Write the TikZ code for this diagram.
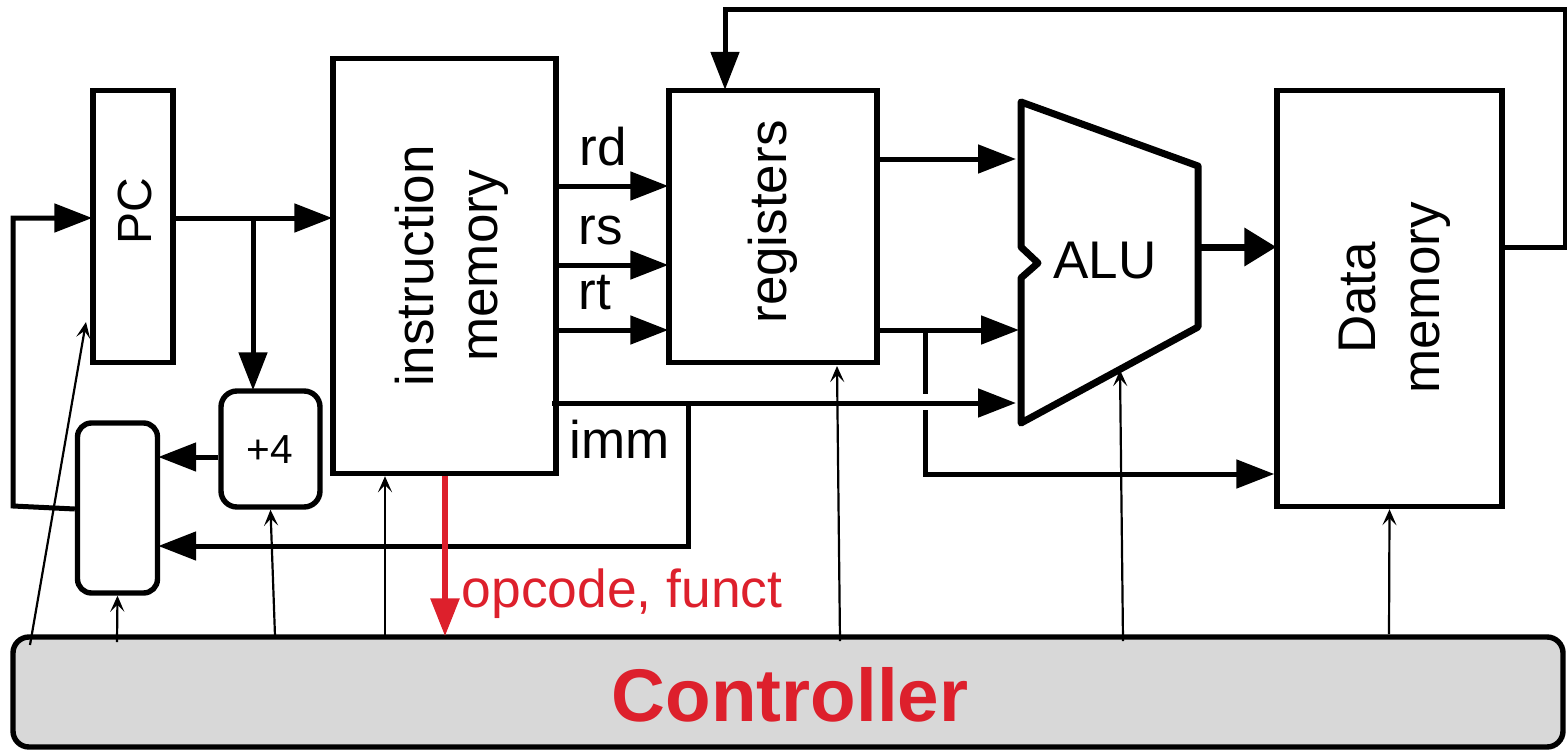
\documentclass[tikz,border=0pt]{standalone}
\usepackage{fontspec}
\setmainfont{Liberation Sans}
\usetikzlibrary{arrows.meta}
\definecolor{ctrlred}{RGB}{221, 32, 44}
\definecolor{ctrlgray}{RGB}{216, 216, 216}
\tikzset{
	unit/.style={draw=black, line width=2.7pt, inner sep=0pt},
	softunit/.style={unit, rounded corners=8pt},
	tag/.style={font=\fontsize{26.5}{32}\selectfont, inner sep=0pt},
	wire/.style={line width=2.5pt, shorten >=-1pt, -{Triangle[length=19pt, width=14pt]}},
	plain/.style={line width=2.5pt},
	ctrlwire/.style={line width=1.1pt, -{Stealth[length=8pt, width=7pt, inset=3.5pt]}}
}
\begin{document}
\begin{tikzpicture}[x=0.5pt, y=-0.5pt]
	\useasboundingbox (0, 0) rectangle (1567, 749);

	% controller
	\node[softunit, fill=ctrlgray, minimum width=775pt, minimum height=55pt] (ctrl) at (788, 692) {};
	\node[font=\bfseries\fontsize{37.3}{40}\selectfont, text=ctrlred, inner sep=0pt] (ctrllabel) at (790, 695) {Controller};

	% units
	\node[unit, minimum width=40pt, minimum height=136pt] (pc) at (133, 226.5) {};
	\node[unit, minimum width=111.5pt, minimum height=207.5pt] (imem) at (444.5, 266) {};
	\node[unit, minimum width=104pt, minimum height=136pt] (reg) at (773, 226.5) {};
	\node[unit, minimum width=112.5pt, minimum height=208pt] (data) at (1389.5, 298.5) {};
	\node[softunit, minimum width=49.5pt, minimum height=58pt] (plus) at (270.5, 449) {};
	\node[softunit, minimum width=40pt, minimum height=85pt, rounded corners=7pt] (mux) at (117.5, 508) {};

	% text inside the units
	\node[tag, font=\fontsize{24}{26}\selectfont, rotate=90] (pclabel) at (135, 211) {PC};
	\node[tag, rotate=90, align=center] (imemlabel) at (452, 266) {instruction\\memory};
	\node[tag, rotate=90] (reglabel) at (773, 222) {registers};
	\node[tag, rotate=90, align=center] (datalabel) at (1395, 298) {Data\\memory};
	\node[font=\fontsize{20.3}{22}\selectfont, inner sep=0pt] (pluslabel) at (270, 450) {+4};

	% alu
	\draw[line width=3.5pt, line join=round] (1021, 102) -- (1198, 166) -- (1198, 327) -- (1021, 423)
		-- (1021, 278) -- (1038, 263) -- (1021, 247) -- cycle;
	\node[tag] (alulabel) at (1105, 261) {ALU};

	% field labels
	\node[tag] (rdlabel) at (603, 147) {rd};
	\node[tag] (rslabel) at (601, 230) {rs};
	\node[tag] (rtlabel) at (595, 293) {rt};
	\node[tag] (immlabel) at (620, 439) {imm};
	\node[font=\fontsize{26.7}{30}\selectfont, text=ctrlred, inner sep=0pt, anchor=base] (oplabel) at (622, 607) {opcode, funct};

	% fetch
	\coordinate (fetch) at (253, 218);
	\coordinate (backup) at (13, 218);
	\coordinate (backdown) at (13, 506);
	\draw[wire] (pc.east |- fetch) -- (imem.west |- fetch);
	\draw[wire] (fetch) -- (fetch |- plus.north);
	\draw[wire] (plus.west |- 0, 457) -- (mux.east |- 0, 457);
	\draw[wire] (mux.west |- 0, 509) -- (backdown) -- (backup) -- (pc.west |- backup);

	% fields into registers
	\foreach \y in {186, 265, 330}{
		\draw[wire] (imem.east |- 0, \y) -- (reg.west |- 0, \y);
	}

	% immediate
	\coordinate (immstart) at (552, 403);
	\coordinate (immtap) at (688, 403);
	\coordinate (immend) at (1014, 403);
	\draw[wire] (immstart) -- (immend);
	\draw[wire] (immtap) -- (688, 546) -- (mux.east |- 0, 546);

	% registers to alu and memory
	\coordinate (aluinone) at (1014, 159);
	\coordinate (aluintwo) at (1017, 330);
	\coordinate (tapone) at (925, 330);
	\coordinate (gapone) at (925, 394);
	\coordinate (gaptwo) at (925, 410);
	\coordinate (tapend) at (925, 474);
	\draw[wire] (reg.east |- aluinone) -- (aluinone);
	\draw[wire] (reg.east |- aluintwo) -- (aluintwo);
	\draw[plain] (tapone) -- (gapone);
	\draw[wire, shorten >=0pt] (gaptwo) -- (tapend) -- (data.west |- tapend);

	% alu result and write back
	\coordinate (aluout) at (1198, 247);
	\coordinate (backright) at (1565, 247);
	\coordinate (backtop) at (1565, 10);
	\coordinate (backleft) at (725, 10);
	\draw[line width=3.5pt, shorten >=-1pt, -{Triangle[length=16pt, width=18.5pt]}] (aluout) -- (data.west |- aluout);
	\draw[wire] (data.east |- backright) -- (backright) -- (backtop) -- (backleft) -- (reg.north -| backleft);

	% opcode to controller
	\draw[wire, ctrlred, line width=3pt] (imem.south -| 445, 0) -- (ctrl.north -| 445, 0);

	% control lines
	\coordinate (pcctrl) at (30, 645);
	\coordinate (pcend) at (86, 322);
	\coordinate (regctrl) at (840, 641);
	\coordinate (regend) at (837, 366);
	\coordinate (aluctrl) at (1123, 641);
	\coordinate (aluend) at (1120, 370);
	\draw[ctrlwire] (pcctrl) -- (pcend);
	\draw[ctrlwire] (117, 642) -- (mux.south);
	\draw[ctrlwire] (275, 636) -- (plus.south);
	\draw[ctrlwire] (385, 636) -- (imem.south -| 385, 0);
	\draw[ctrlwire] (regctrl) -- (regend);
	\draw[ctrlwire] (aluctrl) -- (aluend);
	\draw[ctrlwire] (1389, 634) -- (data.south);
\end{tikzpicture}
\end{document}
